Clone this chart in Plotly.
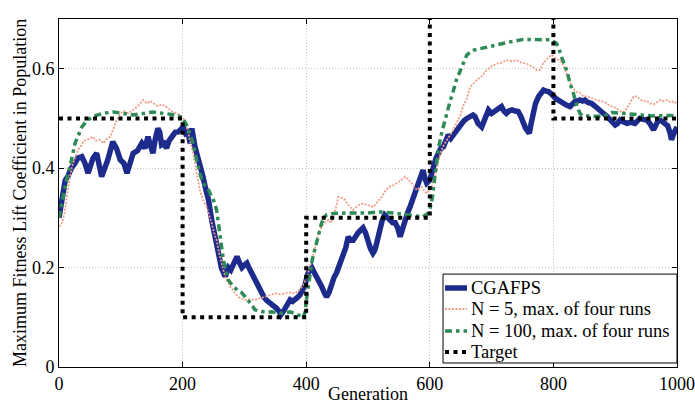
import plotly.graph_objects as go

# ---- data ----
cga_x = [0,5,10,15,20,26,30,37,42,47,55,61,69,74,79,87,93,99,105,110,115,120,127,134,139,144,148,152,156,160,163,166,170,174,178,182,188,193,198,201,205,209,212,215,220,225,229,233,237,242,247,252,258,263,269,274,278,282,288,292,296,300,304,308,312,316,320,324,328,332,336,340,344,348,352,356,359,362,366,370,374,378,382,386,390,394,398,403,406,409,413,417,421,425,429,433,437,441,445,449,452,456,460,464,468,472,476,480,484,488,492,496,500,504,508,511,514,517,519,523,527,531,536,540,544,548,552,556,560,564,568,572,576,580,584,589,592,595,600,603,606,610,614,618,622,626,630,634,638,643,649,655,660,665,670,673,678,684,690,695,700,705,710,716,720,724,728,733,738,743,747,751,755,757,761,764,767,771,776,780,784,788,792,796,800,804,808,812,816,821,827,831,835,839,843,847,851,856,862,867,873,877,881,886,892,896,900,904,908,913,919,925,932,936,940,945,951,956,962,966,970,975,981,985,989,991,995,1000]
cga_y = [0.30,0.34,0.375,0.385,0.40,0.41,0.42,0.423,0.41,0.39,0.42,0.43,0.383,0.40,0.417,0.453,0.44,0.417,0.41,0.39,0.41,0.43,0.435,0.45,0.44,0.463,0.445,0.43,0.46,0.48,0.472,0.447,0.45,0.44,0.455,0.463,0.472,0.473,0.478,0.483,0.47,0.473,0.45,0.48,0.443,0.423,0.40,0.383,0.36,0.336,0.296,0.262,0.235,0.199,0.182,0.20,0.195,0.209,0.222,0.21,0.20,0.205,0.209,0.198,0.188,0.178,0.165,0.155,0.145,0.14,0.134,0.13,0.128,0.125,0.118,0.112,0.105,0.11,0.118,0.128,0.135,0.132,0.135,0.14,0.145,0.155,0.165,0.189,0.195,0.20,0.19,0.182,0.17,0.162,0.15,0.141,0.15,0.169,0.18,0.189,0.20,0.21,0.222,0.24,0.262,0.255,0.255,0.265,0.27,0.275,0.28,0.27,0.249,0.238,0.229,0.235,0.249,0.265,0.28,0.295,0.306,0.30,0.296,0.29,0.29,0.28,0.262,0.28,0.30,0.31,0.322,0.335,0.349,0.36,0.373,0.396,0.38,0.37,0.376,0.39,0.41,0.42,0.43,0.44,0.443,0.455,0.467,0.46,0.467,0.478,0.487,0.495,0.50,0.504,0.507,0.504,0.49,0.483,0.505,0.517,0.51,0.514,0.52,0.524,0.515,0.51,0.515,0.517,0.515,0.514,0.505,0.49,0.48,0.477,0.47,0.49,0.51,0.53,0.544,0.552,0.557,0.555,0.554,0.55,0.544,0.54,0.537,0.533,0.53,0.527,0.524,0.53,0.534,0.535,0.537,0.535,0.537,0.532,0.53,0.525,0.517,0.513,0.51,0.505,0.497,0.492,0.487,0.49,0.497,0.493,0.49,0.492,0.49,0.495,0.50,0.498,0.497,0.49,0.477,0.487,0.497,0.495,0.49,0.485,0.47,0.457,0.47,0.483]

n5_x = [0,5,9,12,16,21,26,31,36,40,45,50,55,60,66,72,78,83,88,93,99,105,112,120,128,136,142,148,153,160,167,174,182,190,197,203,207,211,215,217,220,223,228,233,239,243,247,251,255,259,263,267,271,275,279,284,290,295,301,309,317,325,333,341,350,358,366,374,382,389,395,399,403,407,411,415,420,424,428,432,436,440,444,448,452,458,463,469,476,484,492,500,509,515,522,527,533,540,546,553,560,566,571,575,579,583,587,591,595,599,603,607,611,615,619,623,627,632,638,643,649,654,660,665,670,676,684,692,700,708,716,724,733,741,749,757,765,773,778,784,790,797,804,811,817,822,827,832,838,843,848,855,862,870,877,884,892,900,908,913,919,925,930,935,940,945,951,957,962,967,973,979,984,990,995,1000]
n5_y = [0.282,0.29,0.31,0.336,0.37,0.403,0.42,0.437,0.445,0.455,0.457,0.46,0.463,0.455,0.457,0.45,0.46,0.463,0.48,0.495,0.51,0.515,0.51,0.517,0.525,0.537,0.53,0.535,0.53,0.525,0.528,0.523,0.515,0.51,0.505,0.497,0.483,0.46,0.443,0.43,0.41,0.39,0.356,0.336,0.322,0.305,0.29,0.27,0.255,0.23,0.208,0.19,0.175,0.165,0.158,0.15,0.141,0.138,0.135,0.136,0.135,0.138,0.141,0.145,0.148,0.146,0.148,0.15,0.148,0.155,0.165,0.175,0.189,0.205,0.222,0.245,0.269,0.28,0.289,0.292,0.296,0.29,0.302,0.32,0.342,0.34,0.336,0.325,0.316,0.325,0.329,0.325,0.322,0.332,0.342,0.352,0.362,0.365,0.369,0.375,0.383,0.376,0.369,0.362,0.356,0.36,0.362,0.355,0.349,0.355,0.362,0.38,0.395,0.42,0.437,0.447,0.455,0.465,0.477,0.49,0.505,0.525,0.54,0.563,0.57,0.577,0.585,0.597,0.605,0.61,0.612,0.617,0.615,0.617,0.612,0.61,0.605,0.597,0.597,0.612,0.62,0.628,0.62,0.617,0.605,0.587,0.572,0.56,0.553,0.552,0.545,0.544,0.54,0.537,0.535,0.532,0.525,0.522,0.515,0.512,0.52,0.535,0.545,0.544,0.538,0.535,0.535,0.53,0.528,0.532,0.537,0.535,0.537,0.532,0.535,0.528]

n100_x = [0,6,12,19,26,31,37,45,55,70,88,104,120,136,152,170,190,201,205,209,213,217,221,225,229,233,238,242,246,250,255,260,263,266,270,274,280,285,290,296,301,306,312,317,324,331,338,344,352,360,367,374,380,387,392,395,398,401,404,406,409,411,414,417,421,425,429,433,444,460,480,500,520,540,560,575,589,596,600,604,608,611,614,619,623,627,633,638,643,652,660,670,687,708,730,751,773,795,805,809,813,817,822,827,832,838,843,848,860,881,895,913,935,960,989,1000]
n100_y = [0.30,0.34,0.376,0.41,0.45,0.465,0.483,0.495,0.504,0.51,0.513,0.51,0.507,0.51,0.513,0.51,0.507,0.50,0.49,0.48,0.465,0.45,0.425,0.403,0.385,0.37,0.362,0.356,0.345,0.336,0.316,0.27,0.24,0.215,0.195,0.175,0.165,0.159,0.153,0.149,0.142,0.135,0.125,0.115,0.112,0.111,0.11,0.111,0.109,0.108,0.109,0.111,0.108,0.105,0.102,0.098,0.11,0.141,0.17,0.189,0.21,0.222,0.237,0.249,0.27,0.29,0.30,0.306,0.309,0.31,0.31,0.31,0.312,0.31,0.307,0.305,0.302,0.308,0.316,0.34,0.38,0.42,0.44,0.47,0.49,0.51,0.535,0.555,0.577,0.604,0.628,0.637,0.642,0.647,0.654,0.659,0.659,0.658,0.651,0.64,0.624,0.61,0.595,0.57,0.552,0.525,0.51,0.505,0.504,0.504,0.512,0.51,0.507,0.505,0.506,0.505]

target_x = [0,200,200,400,400,600,600,800,800,1000]
target_y = [0.5,0.5,0.1,0.1,0.3,0.3,0.8,0.8,0.5,0.5]

series_names = ["CGAFPS", "N = 5, max. of four runs", "N = 100, max. of four runs", "Target"]
x_ticks = [0, 200, 400, 600, 800, 1000]
y_ticks = [0, 0.2, 0.4, 0.6]
y_tick_text = ["0", "0.2", "0.4", "0.6"]

FONT = "Liberation Serif"

styles = [
    dict(color="#1c2b8c", width=5.5),
    dict(color="#f29a86", width=1.8, dash="2px,1.5px"),
    dict(color="#2e8b57", width=3.5, dash="7px,4px,3.5px,4px"),
    dict(color="black", width=4, dash="4px,4.5px"),
]
series = [(cga_x, cga_y), (n5_x, n5_y), (n100_x, n100_y), (target_x, target_y)]

fig = go.Figure()
for (sx, sy), name, st in zip(series, series_names, styles):
    fig.add_trace(go.Scatter(x=sx, y=sy, mode="lines", name=name, line=st, showlegend=False))

axis_common = dict(
    showline=True, linecolor="black", linewidth=1, mirror="ticks",
    ticks="inside", ticklen=5, tickcolor="black",
    showgrid=True, gridcolor="#c4c4c4", griddash="1px,2px", gridwidth=1,
    zeroline=False, tickfont=dict(family=FONT, size=18, color="black"),
)
fig.update_xaxes(range=[0, 1000], tickvals=x_ticks, **axis_common)
fig.update_yaxes(range=[0, 0.7], tickvals=y_ticks, ticktext=y_tick_text, **axis_common)

# ---- legend box (drawn in paper coordinates, like the MATLAB legend) ----
leg_x0, leg_x1, leg_y0, leg_y1 = 0.6214, 1.0, 0.0115, 0.267
row_y = [0.227, 0.1667, 0.1034, 0.0431]
samp_x0, samp_x1, text_x = 0.6246, 0.6602, 0.6634

shapes = [dict(type="rect", xref="paper", yref="paper", x0=leg_x0, x1=leg_x1, y0=leg_y0, y1=leg_y1,
               line=dict(color="black", width=1), fillcolor="white", layer="above")]
annotations = []
for ry, name, st in zip(row_y, series_names, styles):
    shapes.append(dict(type="line", xref="paper", yref="paper", x0=samp_x0, x1=samp_x1, y0=ry, y1=ry,
                       line=st, layer="above"))
    annotations.append(dict(text=name, xref="paper", yref="paper", x=text_x, y=ry, xanchor="left",
                            yanchor="middle", showarrow=False,
                            font=dict(family=FONT, size=18.5, color="black")))

annotations += [
    dict(text="Generation", xref="paper", yref="paper", x=0.5, y=0,
         yshift=-27, xanchor="center", yanchor="middle", showarrow=False,
         font=dict(family=FONT, size=18, color="black")),
    dict(text="Maximum Fitness Lift Coefficient in Population", xref="paper", yref="paper",
         x=0, y=0.5, xshift=-39, xanchor="center", yanchor="middle", textangle=-90,
         showarrow=False, font=dict(family=FONT, size=18, color="black")),
]

fig.update_layout(
    width=695, height=405,
    margin=dict(l=59, r=18, t=19, b=38, autoexpand=False),
    plot_bgcolor="white", paper_bgcolor="white",
    font=dict(family=FONT, size=18, color="black"),
    showlegend=False,
    shapes=shapes,
    annotations=annotations,
)

fig.write_html("out.html")
